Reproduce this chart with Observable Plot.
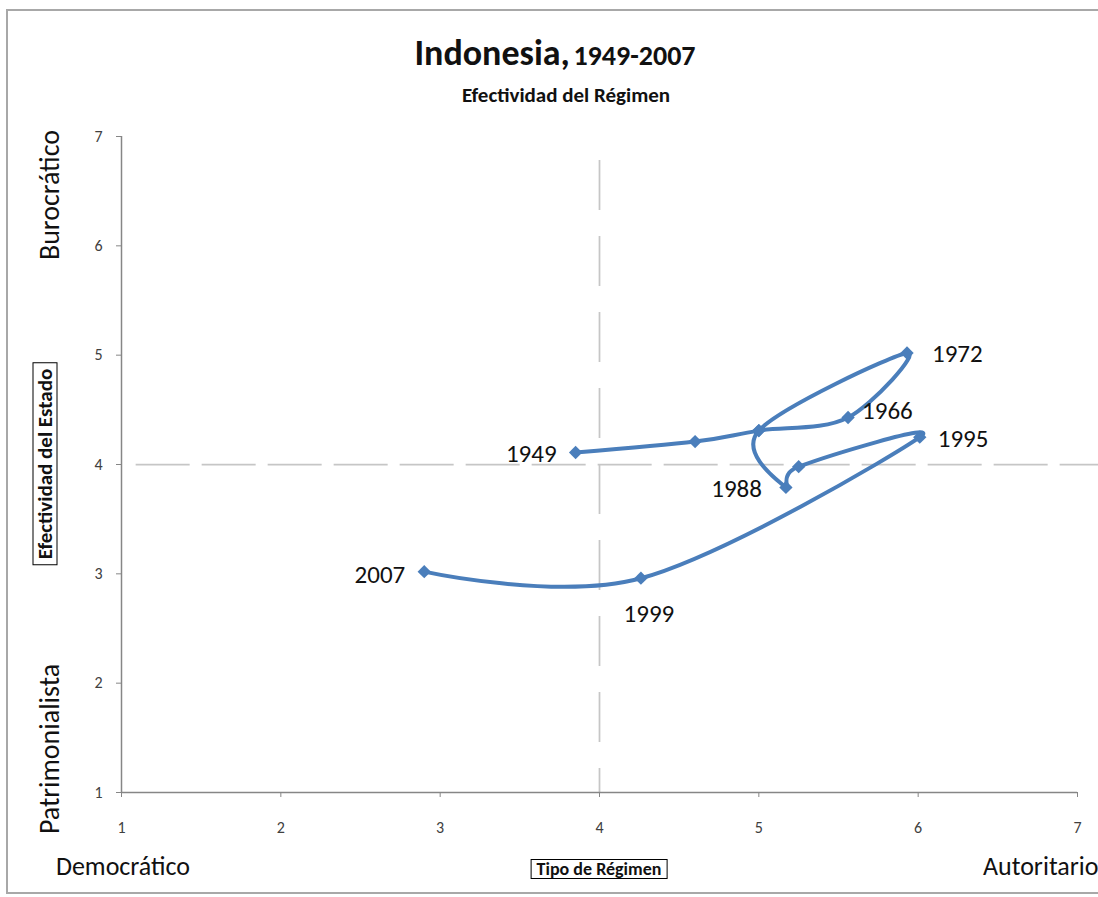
<!DOCTYPE html>
<html>
<head>
<meta charset="utf-8">
<script src="https://cdn.jsdelivr.net/npm/d3@7"></script>
<script src="https://cdn.jsdelivr.net/npm/@observablehq/plot@0.6"></script>
<style>
  html, body { margin: 0; padding: 0; background: #fff; overflow: hidden; }
  #wrap { position: relative; width: 1098px; height: 897px; font-family: Carlito, Lato, "Open Sans", sans-serif; color: #111; }
  #wrap svg { position: absolute; left: 0; top: 0; }
  .frame { position: absolute; left: 6px; top: 9px; width: 1110px; height: 885px; border: 2px solid #a8a8a8; box-sizing: border-box; }
  .t { position: absolute; white-space: nowrap; line-height: 1; transform: translate(-50%, -50%); }
  .rot { transform: translate(-50%, -50%) rotate(-90deg); }
  .boxed { border: 1.5px solid #000; font-weight: bold; background: #fff; }
</style>
</head>
<body>
<div id="wrap">
  <div class="frame"></div>
  <div id="chart"></div>
  <div class="t" style="left:555px; top:53px; font-weight:bold;"><span style="font-size:36px;">Indonesia,</span> <span style="font-size:28px;">1949-2007</span></div>
  <div class="t" style="left:566px; top:95px; font-weight:bold; font-size:21px;">Efectividad del Régimen</div>
  <div class="t rot" style="left:50px; top:195px; font-size:28px;">Burocrático</div>
  <div class="t rot" style="left:50px; top:749px; font-size:28px;">Patrimonialista</div>
  <div class="t rot boxed" style="left:45px; top:464px; font-size:21px; padding:1px 5px;">Efectividad del Estado</div>
  <div class="t" style="left:123px; top:866px; font-size:26px;">Democrático</div>
  <div class="t" style="left:983px; top:866px; font-size:26px; transform: translate(0, -50%);">Autoritario</div>
  <div class="t boxed" style="left:599px; top:869px; font-size:18px; padding:0 5px;">Tipo de Régimen</div>
</div>
<script>
// Regime type (x) and state effectiveness (y), Indonesia 1949-2007, in chronological order
const regimeType    = [3.85, 4.60, 5.00, 5.56, 5.93, 5.00, 5.17, 5.25, 6.01, 4.26, 2.90];
const effectiveness = [4.11, 4.21, 4.31, 4.43, 5.02, 4.31, 3.79, 3.98, 4.25, 2.96, 3.02];
const yearLabels    = ["1949", "", "", "1966", "1972", "", "1988", "", "1995", "1999", "2007"];

const xTicks = [1, 2, 3, 4, 5, 6, 7];
const yTicks = [1, 2, 3, 4, 5, 6, 7];
const midpoint = [4];

const points = regimeType.map((x, i) => ({x, y: effectiveness[i], label: yearLabels[i]}));

// where each year label sits next to its marker
const labelPlacement = {
  "1949": {textAnchor: "end",   dx: -19, dy: 2},
  "1966": {textAnchor: "start", dx: 14,  dy: -6},
  "1972": {textAnchor: "start", dx: 25,  dy: 1},
  "1988": {textAnchor: "end",   dx: -24, dy: 2},
  "1995": {textAnchor: "start", dx: 18,  dy: 2},
  "1999": {textAnchor: "middle",dx: 8,   dy: 36},
  "2007": {textAnchor: "end",   dx: -19, dy: 3}
};

const blue = "#4a7ebb";
const font = "Carlito, Lato, 'Open Sans', sans-serif";

const labelMarks = Object.entries(labelPlacement).map(([year, p]) =>
  Plot.text(points, {
    filter: d => d.label === year,
    x: "x", y: "y", text: "label",
    textAnchor: p.textAnchor, dx: p.dx, dy: p.dy,
    fontSize: 25, fill: "#111"
  })
);

const chart = Plot.plot({
  width: 1098,
  height: 897,
  marginLeft: 121,
  marginRight: 21,
  marginTop: 136,
  marginBottom: 105,
  x: {domain: [1, 7]},
  y: {domain: [1, 7]},
  style: {fontFamily: font, background: "transparent", overflow: "visible"},
  marks: [
    // quadrant guides at the scale midpoint
    Plot.ruleX(midpoint, {y1: 6.78, y2: 1, stroke: "#c6c6c6", strokeWidth: 1.75, strokeDasharray: "50 26"}),
    Plot.ruleY(midpoint, {x1: 1.092, x2: 7.14, stroke: "#c6c6c6", strokeWidth: 1.75, strokeDasharray: "54 12"}),
    // axis lines
    Plot.ruleX([1], {stroke: "#868686", strokeWidth: 1.5}),
    Plot.ruleY([1], {stroke: "#868686", strokeWidth: 1.5}),
    Plot.axisX({ticks: xTicks, tickSize: 5, tickPadding: 24, fontSize: 16, stroke: "#868686", fill: "#404040", label: null, tickFormat: d => String(d)}),
    Plot.axisY({ticks: yTicks, tickSize: 5, tickPadding: 14, fontSize: 16, stroke: "#868686", fill: "#404040", label: null, tickFormat: d => String(d)}),
    Plot.line(points, {x: "x", y: "y", curve: "cardinal", stroke: blue, strokeWidth: 4}),
    Plot.dot(points, {x: "x", y: "y", symbol: "diamond2", r: 6, fill: blue, stroke: null}),
    ...labelMarks
  ]
});

// make sure the axis tick labels use the larger size
d3.select(chart).selectAll("g")
  .filter(function () { return (this.getAttribute("aria-label") || "").includes("tick label"); })
  .attr("font-size", 16)
  .selectAll("text").style("font-size", "16px");

document.getElementById("chart").appendChild(chart);
</script>
</body>
</html>
